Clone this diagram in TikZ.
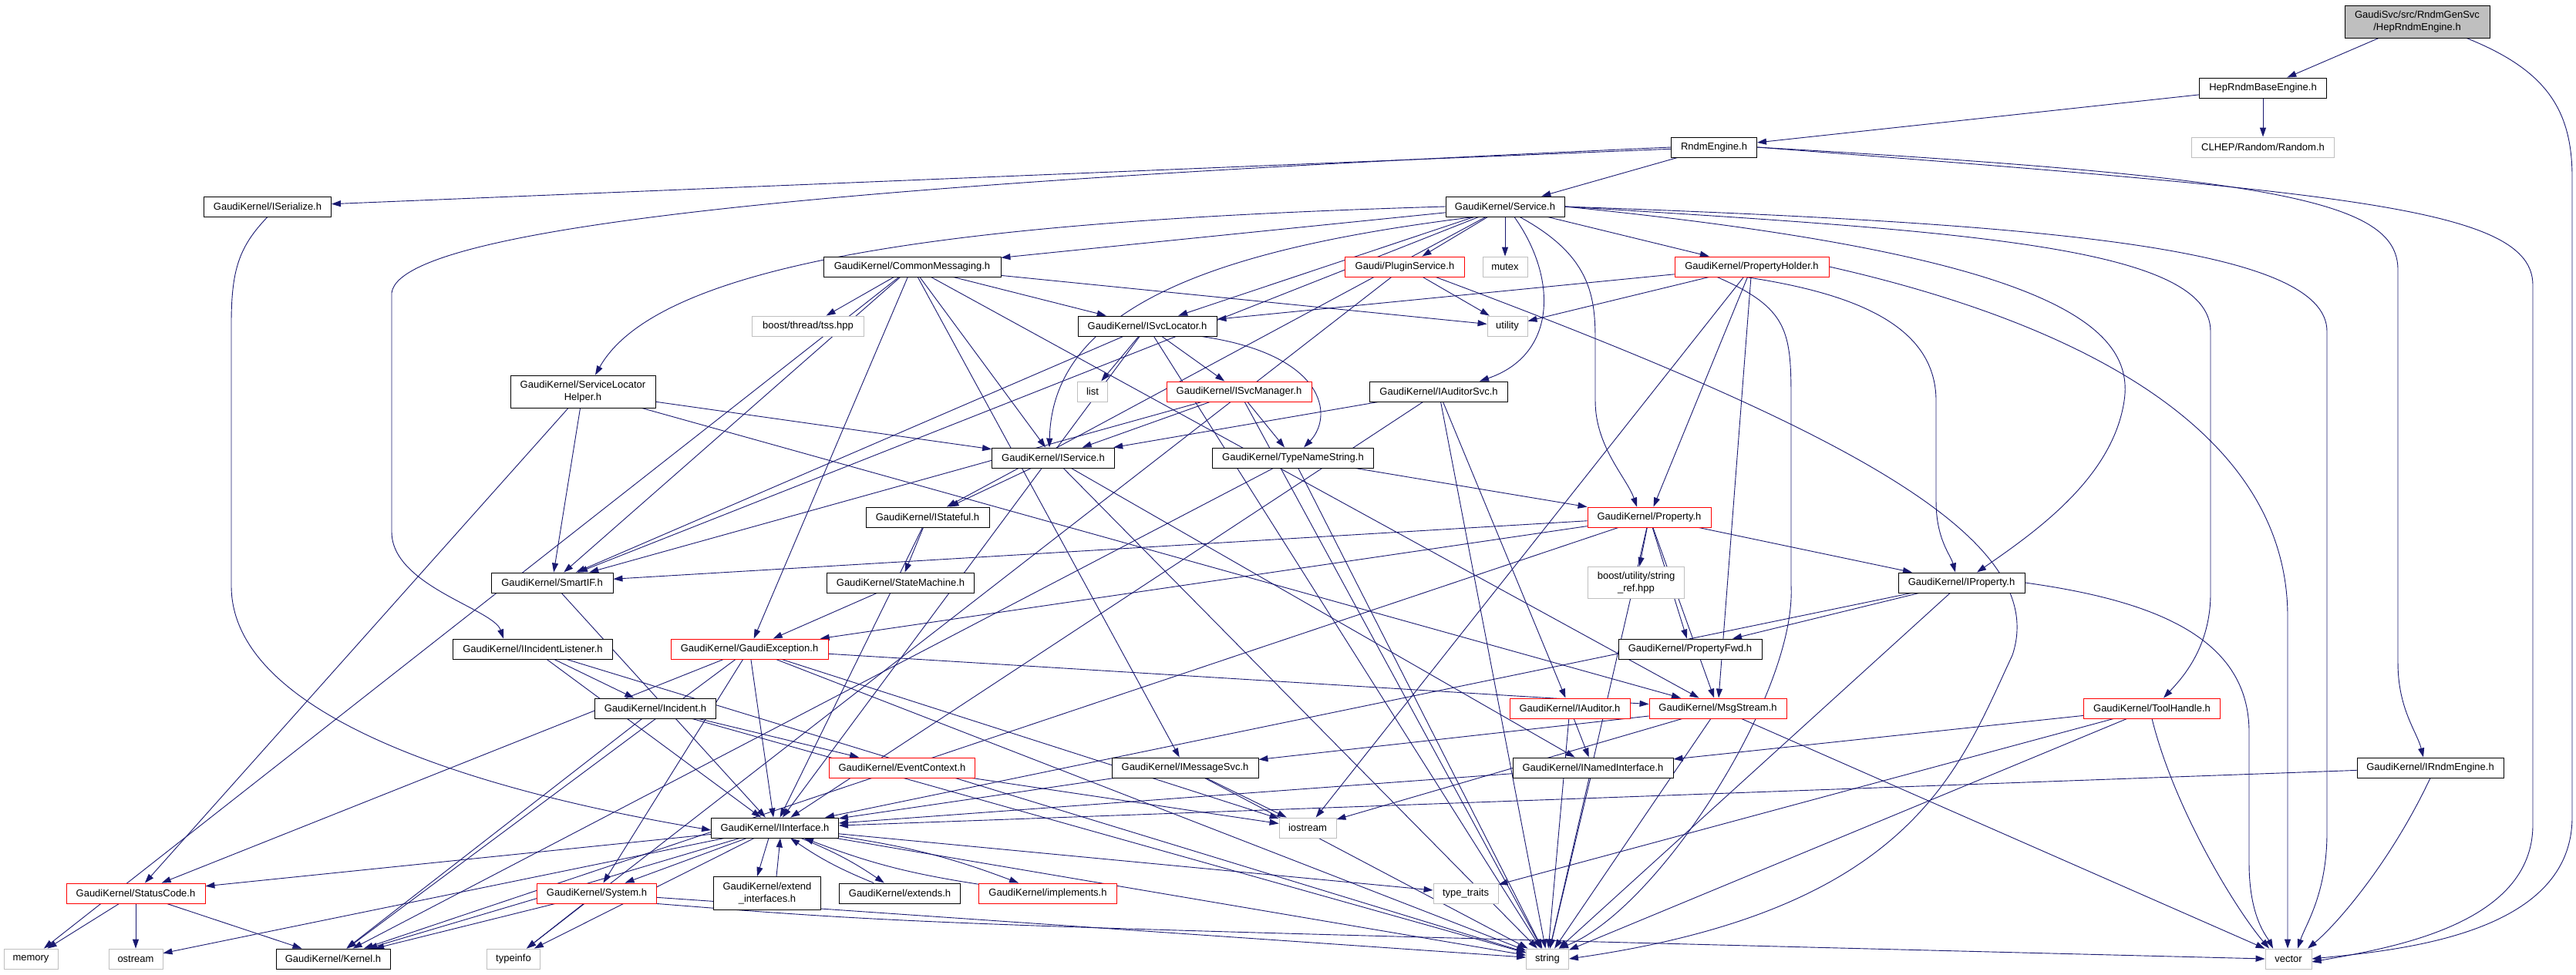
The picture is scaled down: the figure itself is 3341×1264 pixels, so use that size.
\documentclass[tikz,border=0pt]{standalone}
\usepackage{fontspec}
\newfontfamily\doxyfont{Liberation Sans}
\usetikzlibrary{arrows.meta}
\definecolor{edgeblue}{HTML}{191970}
\definecolor{sysgray}{HTML}{BFBFBF}
\pgfdeclarelayer{edges}
\pgfsetlayers{edges,main}
\newcommand{\includesAll}[2]{
  \foreach \tgt in {#2} \draw[incl] (#1) -- (\tgt);
}

\begin{document}
\begin{tikzpicture}[x=1pt,y=-1pt,
  hdrbox/.style={draw=black,line width=0.9pt,fill=white,inner sep=2pt,align=center,
    minimum height=26,font=\doxyfont\fontsize{13}{16}\selectfont},
  redbox/.style={hdrbox,draw=red},
  sysbox/.style={hdrbox,draw=sysgray},
  rootbox/.style={hdrbox,fill=sysgray},
  incl/.style={draw=edgeblue,line width=0.9pt,-{Triangle[length=12pt,width=8pt]}}]
  \useasboundingbox (0,0) rectangle (3341,1264);

  \node[rootbox,minimum width=188,minimum height=42] (root) at (3135,28) {GaudiSvc/src/RndmGenSvc\\/HepRndmEngine.h};
  \node[hdrbox,minimum width=165] (base) at (2935,114) {HepRndmBaseEngine.h};
  \node[sysbox,minimum width=185] (clhep) at (2935,191) {CLHEP/Random/Random.h};
  \node[hdrbox,minimum width=111] (rndm) at (2223,191) {RndmEngine.h};
  \node[hdrbox,minimum width=165] (iser) at (347,268) {GaudiKernel/ISerialize.h};
  \node[hdrbox,minimum width=154] (svc) at (1952,268) {GaudiKernel/Service.h};
  \node[hdrbox,minimum width=230] (cmsg) at (1183,346) {GaudiKernel/CommonMessaging.h};
  \node[redbox,minimum width=155] (plugin) at (1822,346) {Gaudi/PluginService.h};
  \node[sysbox,minimum width=58] (mutex) at (1952,346) {mutex};
  \node[redbox,minimum width=200] (pholder) at (2272,346) {GaudiKernel/PropertyHolder.h};
  \node[sysbox,minimum width=145] (tss) at (1048,423) {boost/thread/tss.hpp};
  \node[hdrbox,minimum width=180] (isvcloc) at (1488,423) {GaudiKernel/ISvcLocator.h};
  \node[sysbox,minimum width=52] (utility) at (1955,423) {utility};
  \node[hdrbox,minimum width=188,minimum height=42] (slh) at (756,508) {GaudiKernel/ServiceLocator\\Helper.h};
  \node[sysbox,minimum width=39] (list) at (1417,508) {list};
  \node[redbox,minimum width=188] (isvcmgr) at (1607,508) {GaudiKernel/ISvcManager.h};
  \node[hdrbox,minimum width=179] (iauditsvc) at (1866,508) {GaudiKernel/IAuditorSvc.h};
  \node[hdrbox,minimum width=159] (iservice) at (1366,594) {GaudiKernel/IService.h};
  \node[hdrbox,minimum width=209] (typename) at (1677,594) {GaudiKernel/TypeNameString.h};
  \node[hdrbox,minimum width=160] (istateful) at (1203,671) {GaudiKernel/IStateful.h};
  \node[redbox,minimum width=160] (property) at (2139,671) {GaudiKernel/Property.h};
  \node[hdrbox,minimum width=158] (smartif) at (716,756) {GaudiKernel/SmartIF.h};
  \node[hdrbox,minimum width=191] (statemach) at (1168,756) {GaudiKernel/StateMachine.h};
  \node[sysbox,minimum width=125,minimum height=41] (strref) at (2122,756) {boost/utility/string\\\_ref.hpp};
  \node[hdrbox,minimum width=164] (iproperty) at (2544,756) {GaudiKernel/IProperty.h};
  \node[hdrbox,minimum width=207] (iincl) at (691,842) {GaudiKernel/IIncidentListener.h};
  \node[redbox,minimum width=204] (gexc) at (972,842) {GaudiKernel/GaudiException.h};
  \node[hdrbox,minimum width=186] (propfwd) at (2192,842) {GaudiKernel/PropertyFwd.h};
  \node[hdrbox,minimum width=157] (incident) at (850,919) {GaudiKernel/Incident.h};
  \node[redbox,minimum width=156] (iauditor) at (2036,919) {GaudiKernel/IAuditor.h};
  \node[redbox,minimum width=178] (msgstream) at (2228,919) {GaudiKernel/MsgStream.h};
  \node[redbox,minimum width=177] (toolhandle) at (2791,919) {GaudiKernel/ToolHandle.h};
  \node[redbox,minimum width=189] (eventctx) at (1170,996) {GaudiKernel/EventContext.h};
  \node[hdrbox,minimum width=190] (imsgsvc) at (1537,996) {GaudiKernel/IMessageSvc.h};
  \node[hdrbox,minimum width=208] (inamed) at (2066,996) {GaudiKernel/INamedInterface.h};
  \node[hdrbox,minimum width=190] (irndm) at (3152,996) {GaudiKernel/IRndmEngine.h};
  \node[hdrbox,minimum width=165] (iinterface) at (1005,1074) {GaudiKernel/IInterface.h};
  \node[sysbox,minimum width=74] (iostream) at (1696,1074) {iostream};
  \node[redbox,minimum width=180] (statuscode) at (176,1159) {GaudiKernel/StatusCode.h};
  \node[redbox,minimum width=155] (system) at (774,1159) {GaudiKernel/System.h};
  \node[hdrbox,minimum width=139,minimum height=43] (extifs) at (995,1159) {GaudiKernel/extend\\\_interfaces.h};
  \node[hdrbox,minimum width=157] (extends) at (1167,1159) {GaudiKernel/extends.h};
  \node[redbox,minimum width=179] (implements) at (1359,1159) {GaudiKernel/implements.h};
  \node[sysbox,minimum width=84] (typetraits) at (1901,1159) {type\_traits};
  \node[sysbox,minimum width=70] (memory) at (40,1244) {memory};
  \node[sysbox,minimum width=70] (ostream) at (176,1244) {ostream};
  \node[hdrbox,minimum width=148] (kernel) at (432,1244) {GaudiKernel/Kernel.h};
  \node[sysbox,minimum width=69] (typeinfo) at (666,1244) {typeinfo};
  \node[sysbox,minimum width=55] (string) at (2007,1244) {string};
  \node[sysbox,minimum width=60] (vector) at (2968,1244) {vector};

  \begin{pgfonlayer}{edges}
  \includesAll{root}{base}
  \includesAll{base}{clhep,rndm}
  \includesAll{rndm}{iser,svc}
  \includesAll{irndm}{iinterface}
  \includesAll{svc}{cmsg,plugin,mutex,pholder,isvcloc,istateful,smartif}
  \includesAll{cmsg}{tss,isvcloc,iservice,utility,imsgsvc,msgstream,gexc,smartif,memory}
  \includesAll{plugin}{utility,typeinfo}
  \includesAll{pholder}{isvcloc,utility,property,msgstream,iostream}
  \includesAll{isvcloc}{list,isvcmgr,smartif,string,iinterface}
  \includesAll{slh}{iservice,smartif,statuscode,msgstream}
  \includesAll{iauditsvc}{iservice,iauditor,string,iinterface}
  \includesAll{isvcmgr}{iservice,typename,smartif,string}
  \includesAll{iservice}{istateful,inamed,string}
  \includesAll{typename}{property,string,kernel}
  \includesAll{istateful}{statemach,iinterface}
  \includesAll{statemach}{gexc}
  \includesAll{smartif}{iinterface}
  \includesAll{property}{strref,iproperty,propfwd,msgstream,smartif,kernel,gexc,string}
  \includesAll{iproperty}{propfwd,iinterface,string}
  \includesAll{iincl}{incident,iinterface,string}
  \includesAll{gexc}{statuscode,kernel,system,iinterface,msgstream,iostream,string}
  \includesAll{incident}{eventctx,kernel,string}
  \includesAll{iauditor}{inamed,string}
  \includesAll{msgstream}{imsgsvc,string,vector,iostream}
  \includesAll{toolhandle}{inamed,string,typetraits}
  \includesAll{eventctx}{iostream}
  \includesAll{imsgsvc}{iostream,string,iinterface}
  \includesAll{inamed}{iinterface,string}
  \includesAll{iinterface}{statuscode,kernel,system,typeinfo,ostream,typetraits,string}
  \includesAll{statuscode}{memory,ostream,kernel}
  \includesAll{system}{kernel,typeinfo,string}

  \draw[incl] ([xshift=64]root.south) .. controls (3300,90) and (3336,140) .. (3336,230) -- (3336,1060) .. controls (3336,1210) and (3120,1232) .. (vector.east);
  \draw[incl] (rndm.east) .. controls (3050,250) and (3285,270) .. (3285,370) -- (3285,1070) .. controls (3285,1200) and (3100,1230) .. ([yshift=-4]vector.east);
  \draw[incl] (rndm.east) .. controls (2950,230) and (3110,260) .. (3110,350) -- (3110,860) .. controls (3110,920) and (3135,950) .. ([xshift=-9]irndm.north);
  \draw[incl] (rndm.west) .. controls (1300,230) and (520,280) .. (508,380) -- (508,690) .. controls (508,760) and (640,790) .. ([xshift=-38]iincl.north);
  \draw[incl] (iser.south) .. controls (310,320) and (300,350) .. (300,420) -- (300,760) .. controls (300,950) and (700,1040) .. ([yshift=-3]iinterface.west);
  \draw[incl] (svc.east) .. controls (2650,290) and (3018,320) .. (3018,430) -- (3018,1080) .. controls (3018,1160) and (2990,1200) .. ([xshift=12]vector.north);
  \draw[incl] (svc.east) .. controls (2550,300) and (2867,320) .. (2867,430) -- (2867,770) .. controls (2867,840) and (2830,880) .. ([xshift=15]toolhandle.north);
  \draw[incl] (svc.east) .. controls (2650,330) and (2770,420) .. (2755,520) .. controls (2740,620) and (2640,690) .. ([xshift=20]iproperty.north);
  \draw[incl] ([xshift=12]svc.south) .. controls (2020,360) and (2020,460) .. ([xshift=53]iauditsvc.north);
  \draw[incl] ([xshift=19]svc.south) .. controls (2060,330) and (2069,380) .. (2069,440) -- (2069,520) .. controls (2069,580) and (2110,620) .. ([xshift=-16]property.north);
  \draw[incl] (svc.west) .. controls (1300,285) and (860,330) .. ([xshift=16]slh.north);
  \draw[incl] ([xshift=-40]svc.south) .. controls (1600,320) and (1365,390) .. ([xshift=-5]iservice.north);
  \draw[incl] ([xshift=70]isvcloc.south) .. controls (1720,460) and (1730,540) .. ([xshift=14]typename.north);
  \draw[incl] ([xshift=-8]pholder.south) .. controls (2400,380) and (2511,420) .. (2511,520) -- (2511,650) .. controls (2511,700) and (2530,720) .. ([xshift=-8]iproperty.north);
  \draw[incl] ([xshift=-45]pholder.south) .. controls (2320,400) and (2323,430) .. (2323,520) -- (2323,760) .. controls (2330,900) and (2150,1180) .. ([xshift=15]string.north);
  \draw[incl] (pholder.east) .. controls (2700,420) and (2967,560) .. (2967,800) -- ([xshift=-1]vector.north);
  \draw[incl] ([xshift=40]plugin.south) .. controls (2400,560) and (2660,700) .. (2610,850) .. controls (2540,1000) and (2480,1180) .. (string.east);
  \draw[incl] (iproperty.east) .. controls (2800,780) and (2917,830) .. (2917,950) -- (2917,1120) .. controls (2917,1190) and (2940,1215) .. ([xshift=-20]vector.north);
  \draw[incl] (toolhandle.south) .. controls (2820,1050) and (2900,1180) .. ([xshift=-25]vector.north);
  \draw[incl] (irndm.south) .. controls (3100,1120) and (3030,1200) .. ([xshift=25]vector.north);
  \draw[incl] (system.south east) .. controls (1200,1200) .. (vector.west);
  \draw[incl] ([xshift=-8]iinterface.south) -- ([xshift=-13]extifs.north);
  \draw[incl] ([xshift=12]extifs.north) -- ([xshift=7]iinterface.south);
  \draw[incl] (iinterface) to[bend left=6] (extends);
  \draw[incl] (extends) to[bend left=6] (iinterface);
  \draw[incl] (iinterface) to[bend left=6] (implements);
  \draw[incl] (implements) to[bend left=6] (iinterface);
  \end{pgfonlayer}
\end{tikzpicture}
\end{document}
